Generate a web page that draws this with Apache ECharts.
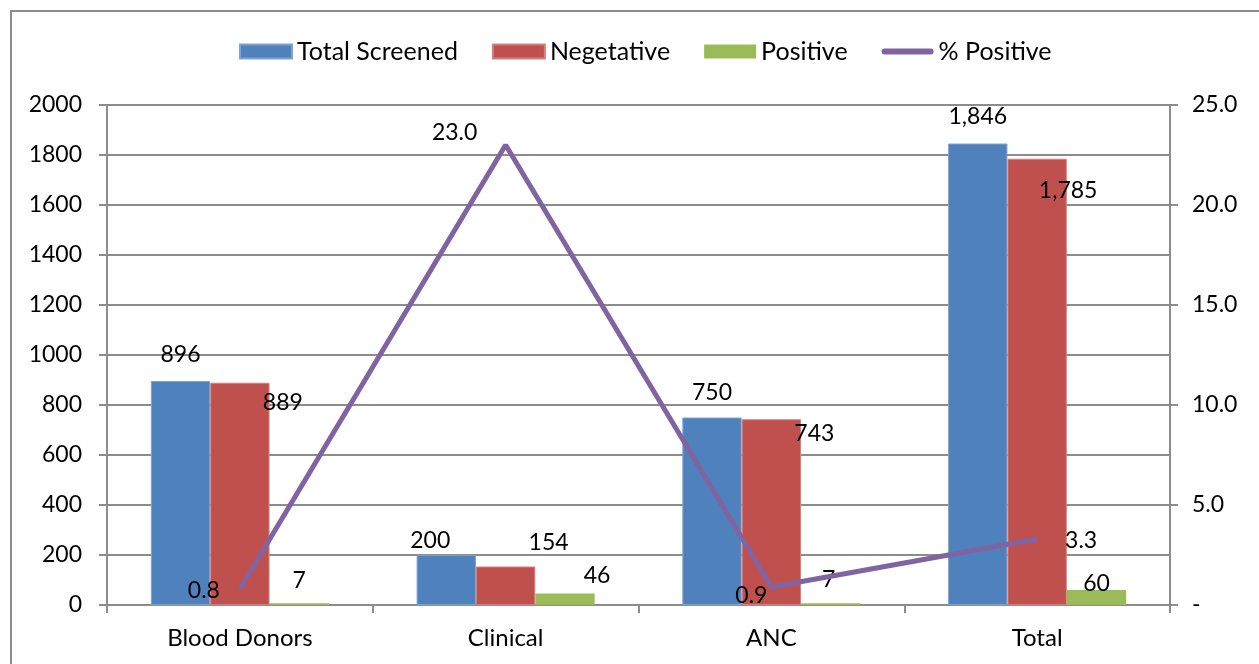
<!DOCTYPE html>
<html>
<head>
<meta charset="utf-8">
<script src="https://cdn.jsdelivr.net/npm/echarts@6/dist/echarts.min.js"></script>
<style>
  html, body { margin: 0; padding: 0; background: #fff; }
  #chart { width: 1259px; height: 664px; }
</style>
</head>
<body>
<div id="chart"></div>
<script>
const categories = ['Blood Donors', 'Clinical', 'ANC', 'Total']
const totalScreened = [896, 200, 750, 1846]
const negative = [889, 154, 743, 1785]
const positive = [7, 46, 7, 60]
const pctPositive = [0.8, 23.0, 0.9, 3.3]

// label nudges, the source chart had them dragged around by hand
const blueOffsets = [[0, -15], [-16, -3], [0, -13], [0, -15]]
const redOffsets = [[43, 31], [43, -12], [43, 26], [31, 43]]
const greenOffsets = [[0, -11], [32, -6], [-2, -12], [0, 5]]
const lineOffsets = [[-36, 2], [-51, -12], [-20, 9], [44, 2]]

const font = 'Lato, "Open Sans", sans-serif'
const gray = '#8c8c8c'
const fs = 23

const withOffsets = (vals, offs) => vals.map((v, i) => ({
  value: v,
  label: { offset: offs[i] }
}))

const chart = echarts.init(document.getElementById('chart'))

chart.setOption({
  textStyle: { fontFamily: font, color: '#000' },
  animation: false,
  graphic: [{
    type: 'rect',
    shape: { x: 11, y: 11, width: 1300, height: 700 },
    style: { fill: 'none', stroke: gray, lineWidth: 2 },
    silent: true
  }],
  legend: {
    top: 34,
    left: 234,
    itemWidth: 52,
    itemHeight: 14,
    itemGap: 34,
    textStyle: { fontSize: 25, fontFamily: font, color: '#000' },
    data: [
      { name: 'Total Screened', icon: 'rect' },
      { name: 'Negetative', icon: 'rect' },
      { name: 'Positive', icon: 'rect' },
      { name: '% Positive', icon: 'path://M0,0 L0.01,0 L0.01,0.01 Z M0,14 L0.01,14 L0.01,13.99 Z M3,4 L49,4 A3,3 0 0 1 49,10 L3,10 A3,3 0 0 1 3,4 Z' }
    ]
  },
  grid: { left: 107, right: 89, top: 105, bottom: 59 },
  xAxis: {
    type: 'category',
    data: categories,
    axisLine: { lineStyle: { color: gray, width: 2 } },
    axisTick: { show: true, length: 8, lineStyle: { color: gray, width: 2 } },
    axisLabel: { fontSize: 24, color: '#000', margin: 21, fontFamily: font }
  },
  yAxis: [{
    type: 'value',
    min: 0,
    max: 2000,
    interval: 200,
    axisLine: { show: true, lineStyle: { color: gray, width: 2 } },
    axisTick: { show: true, length: 8, lineStyle: { color: gray, width: 2 } },
    axisLabel: {
      fontSize: fs, color: '#000', margin: 25, fontFamily: font,
      formatter: v => String(v)
    },
    splitLine: { lineStyle: { color: gray, width: 2 } }
  }, {
    type: 'value',
    min: 0,
    max: 25,
    interval: 5,
    position: 'right',
    axisLine: { show: true, lineStyle: { color: gray, width: 2 } },
    axisTick: { show: true, length: 8, lineStyle: { color: gray, width: 2 } },
    axisLabel: {
      fontSize: fs, color: '#000', margin: 22, fontFamily: font,
      formatter: v => v === 0 ? '-' : v.toFixed(1)
    },
    splitLine: { show: false }
  }],
  series: [{
    name: 'Total Screened',
    type: 'bar',
    barGap: 0,
    barCategoryGap: '33%',
    itemStyle: { color: '#4F81BD', borderColor: '#7fa3d0', borderWidth: 1 },
    label: {
      show: true, position: 'top', distance: 0, fontSize: fs, color: '#000',
      formatter: p => p.value.toLocaleString('en-US')
    },
    data: withOffsets(totalScreened, blueOffsets)
  }, {
    name: 'Negetative',
    type: 'bar',
    itemStyle: { color: '#C0504D', borderColor: '#d6807e', borderWidth: 1 },
    label: {
      show: true, position: 'top', distance: 0, fontSize: fs, color: '#000',
      formatter: p => p.value.toLocaleString('en-US')
    },
    data: withOffsets(negative, redOffsets)
  }, {
    name: 'Positive',
    type: 'bar',
    itemStyle: { color: '#9BBB59' },
    label: { show: true, position: 'top', distance: 0, fontSize: fs, color: '#000' },
    data: withOffsets(positive, greenOffsets)
  }, {
    name: '% Positive',
    type: 'line',
    yAxisIndex: 1,
    symbol: 'circle',
    symbolSize: 1,
    z: 5,
    lineStyle: { color: '#8064A2', width: 5 },
    itemStyle: { color: '#8064A2' },
    label: {
      show: true, position: 'inside', fontSize: fs, color: '#000',
      formatter: p => p.value.toFixed(1)
    },
    data: withOffsets(pctPositive, lineOffsets)
  }]
})
</script>
</body>
</html>
